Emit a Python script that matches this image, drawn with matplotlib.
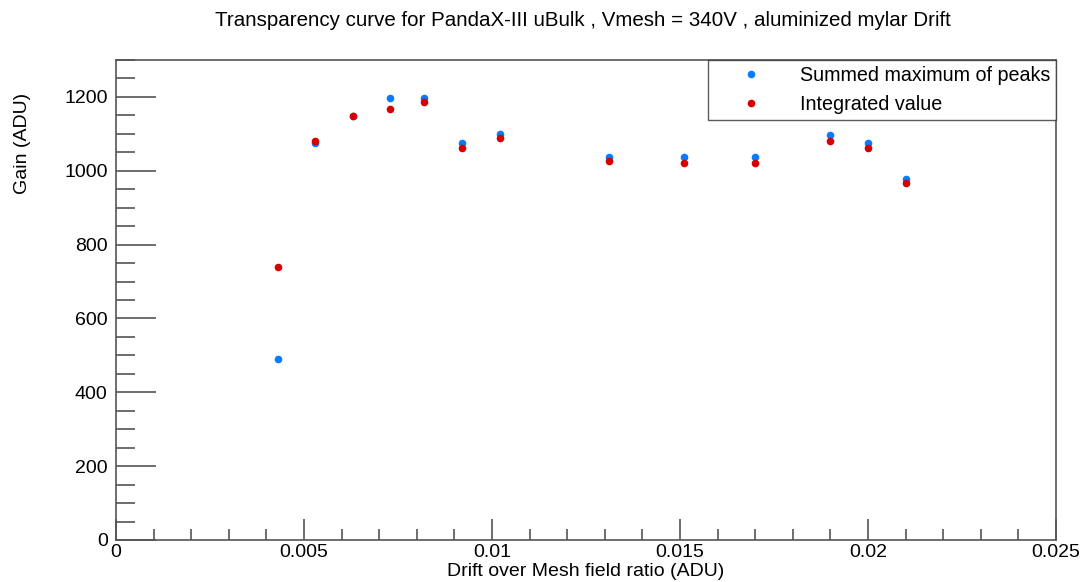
import numpy as np
import matplotlib
matplotlib.use("Agg")
import matplotlib.pyplot as plt
from matplotlib.ticker import MultipleLocator

ratio = [0.0043, 0.0053, 0.0063, 0.0073, 0.0082, 0.0092, 0.0102,
         0.0131, 0.0151, 0.0170, 0.0190, 0.0200, 0.0210]
summed_max = [489, 1074, 1147, 1196, 1196, 1074, 1099,
              1038, 1038, 1038, 1098, 1075, 977]
integrated = [739, 1081, 1149, 1168, 1185, 1063, 1089,
              1027, 1021, 1021, 1081, 1063, 967]

plt.rcParams['font.family'] = ['Liberation Sans', 'DejaVu Sans']

W, H = 1082, 582
fig = plt.figure(figsize=(W / 100, H / 100), dpi=100)
ax = fig.add_axes([116 / W, (H - 540) / H, 940 / W, 480 / H])

ax.plot(ratio, summed_max, 'o', color='#0a7bff', markersize=5.5, markeredgewidth=0,
        label="Summed maximum of peaks")
ax.plot(ratio, integrated, 'o', color='#d60000', markersize=5.5, markeredgewidth=0,
        label="Integrated value")

ax.set_xlim(0, 0.025)
ax.set_ylim(0, 1300)
ax.xaxis.set_major_locator(MultipleLocator(0.005))
ax.xaxis.set_minor_locator(MultipleLocator(0.001))
ax.yaxis.set_major_locator(MultipleLocator(200))
ax.yaxis.set_minor_locator(MultipleLocator(50))
ax.xaxis.set_major_formatter(matplotlib.ticker.FuncFormatter(lambda v, p: "0" if v == 0 else f"{v:g}"))

ax.tick_params(axis='both', which='both', direction='in', colors='#555555',
               labelcolor='black', labelsize=14, top=False, right=False)
ax.tick_params(axis='y', which='major', length=29, width=1.2, pad=6)
ax.tick_params(axis='y', which='minor', length=14, width=1.2)
ax.tick_params(axis='x', which='major', length=15, width=1.2, pad=3)
ax.tick_params(axis='x', which='minor', length=8, width=1.2)
for s in ax.spines.values():
    s.set_color('#555555')
    s.set_linewidth(1.2)

fig.text(586 / W, 1 - 572 / H, "Drift over Mesh field ratio (ADU)", fontsize=14,
         ha='center', va='center')
fig.text(23 / W, 1 - 143 / H, "Gain (ADU)", fontsize=14, rotation=90,
         ha='center', va='center')
fig.text(583 / W, 1 - 21 / H, "Transparency curve for PandaX-III uBulk , Vmesh = 340V , aluminized mylar Drift",
         fontsize=14.8, ha='center', va='center')

leg = ax.legend(loc='upper right', bbox_to_anchor=(1.0, 1.0), fontsize=14.2,
                frameon=True, fancybox=False, borderaxespad=0, handletextpad=0.55,
                borderpad=0.3, labelspacing=0.5, handlelength=3.8)
leg.get_frame().set_edgecolor('#333333')
leg.get_frame().set_linewidth(1.0)

fig.savefig("out.png", dpi=100)
